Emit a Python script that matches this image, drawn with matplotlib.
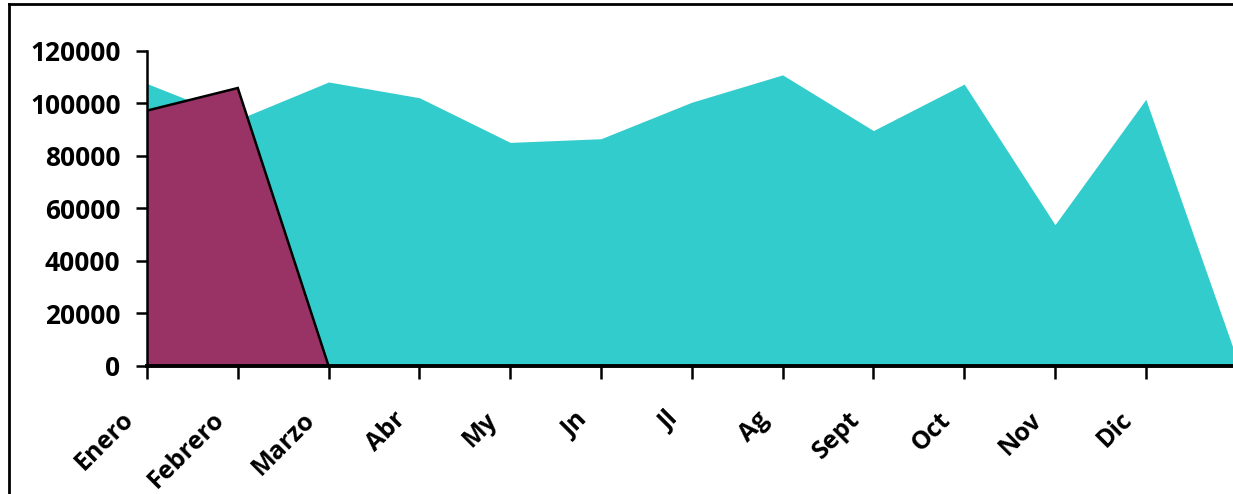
import matplotlib
matplotlib.use("Agg")
import matplotlib.pyplot as plt
import matplotlib.transforms as mtransforms
import numpy as np
from matplotlib.lines import Line2D

categories = ["Enero", "Febrero", "Marzo", "Abr", "My", "Jn", "Jl", "Ag",
              "Sept", "Oct", "Nov", "Dic"]
# turquoise series (13th point has no category label; chart is cropped there)
serie_turquesa = [107500, 93800, 108100, 102100, 85100, 86500, 100400,
                  110800, 89600, 107300, 53800, 101500, 3000]
# maroon series
serie_granate = [97200, 105800, 0]
y_ticks = [0, 20000, 40000, 60000, 80000, 100000, 120000]

plt.rcParams['font.family'] = ['Open Sans', 'DejaVu Sans']

W, H = 1233, 494
fig = plt.figure(figsize=(W / 100, H / 100), dpi=100)
ax = fig.add_axes([147 / W, 1 - 366 / H, 1 - 147 / W, (366 - 50.7) / H])

x_t = np.arange(len(serie_turquesa))
ax.fill_between(x_t, 0, serie_turquesa, color="#33CCCC", linewidth=0, zorder=1)
x_g = np.arange(len(serie_granate))
ax.fill_between(x_g, 0, serie_granate, color="#993366", linewidth=0, zorder=2)
ax.plot(x_g, serie_granate, color="black", linewidth=1.8, zorder=3,
        solid_joinstyle="miter")

ax.set_xlim(0, (W - 147) / 90.8)
ax.set_ylim(0, 120000)
ax.set_yticks(y_ticks)
ax.set_yticklabels([str(v) for v in y_ticks], fontsize=19, fontweight="bold")
ax.set_xticks(np.arange(len(categories)))

for s in ["top", "right"]:
    ax.spines[s].set_visible(False)
ax.spines["left"].set_linewidth(1.8)
ax.spines["bottom"].set_linewidth(2.8)
ax.spines["bottom"].set_zorder(4)
ax.tick_params(axis="y", direction="out", length=8, width=1.8, pad=11)
ax.tick_params(axis="x", direction="out", length=9, width=1.8, pad=27)

ax.set_xticklabels(categories, fontsize=18, fontweight="bold", rotation=45,
                   ha="right", va="center", rotation_mode="anchor")
offset = mtransforms.ScaledTranslation(-17 / 100, 0, fig.dpi_scale_trans)
for lbl in ax.get_xticklabels():
    lbl.set_transform(lbl.get_transform() + offset)

# outer frame (left and top visible)
fig.add_artist(Line2D([9 / W, 9 / W], [0, 1 - 4 / H], transform=fig.transFigure,
                      color="black", linewidth=2))
fig.add_artist(Line2D([9 / W, 1], [1 - 4 / H, 1 - 4 / H], transform=fig.transFigure,
                      color="black", linewidth=2))

fig.savefig("out.png", dpi=100)
